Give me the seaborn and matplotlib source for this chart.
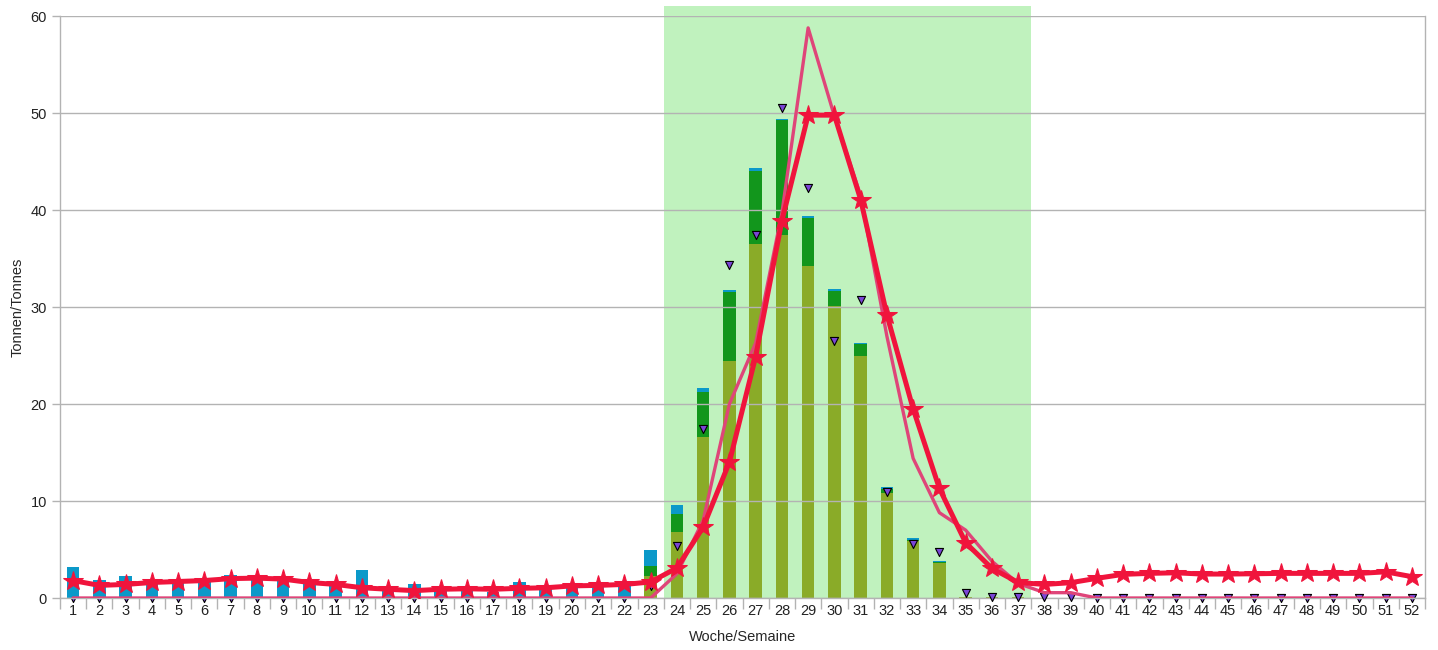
import numpy as np
import pandas as pd
import matplotlib
matplotlib.use("Agg")
import matplotlib.pyplot as plt
import seaborn as sns

# Daten pro Woche (1-52)
wochen = list(range(1, 53))

anteil_oliv = [0.0] * 22 + [2.27, 6.84, 16.6, 24.4, 36.5, 37.4, 34.2, 30.1, 24.95, 10.86, 5.9, 3.57,
                            0.15, 0.1, 0.1] + [0.0] * 15
anteil_gruen = [0.0] * 22 + [1.03, 1.82, 4.6, 7.2, 7.5, 11.9, 5.0, 1.55, 1.2, 0.4, 0.08, 0.11,
                             0.0, 0.0, 0.0] + [0.0] * 15
anteil_blau = [3.15, 1.85, 2.25, 1.5, 1.6, 1.6, 2.35, 2.0, 2.3, 1.5, 1.7, 2.9, 1.0, 1.45, 0.9, 1.0,
               0.6, 1.7, 0.9, 1.5, 1.4, 1.75,
               1.7, 0.94, 0.45, 0.2, 0.3, 0.15, 0.2, 0.25, 0.2, 0.14, 0.21, 0.17,
               0.0, 0.0, 0.0] + [0.0] * 15

linie_stern = [1.8, 1.3, 1.4, 1.6, 1.7, 1.8, 2.0, 2.05, 1.95, 1.6, 1.4, 1.06, 0.9, 0.76, 0.9, 0.95,
               0.9, 1.0, 1.05, 1.25, 1.3, 1.4, 1.65, 3.1, 7.3, 14.0, 24.9, 38.9, 49.8, 49.8, 41.1,
               29.2, 19.5, 11.3, 5.7, 3.06, 1.6, 1.4, 1.58, 2.03, 2.44, 2.54, 2.6, 2.47, 2.47, 2.5,
               2.54, 2.54, 2.54, 2.54, 2.7, 2.2]
linie_rosa = [0.0] * 23 + [2.5, 8.0, 20.0, 26.3, 39.7, 58.8, 49.7, 41.5, 27.0, 14.4, 8.8, 7.0, 3.8,
                           1.5, 0.55, 0.55] + [0.0] * 13
dreiecke = [0.0] * 22 + [1.2, 5.4, 17.4, 34.3, 37.4, 50.5, 42.3, 26.5, 30.7, 10.9, 5.6, 4.7, 0.5,
                         0.1, 0.1, 0.1, 0.1] + [0.0] * 13

# Saisonbereich (Woche 24 bis 37)
saison_von, saison_bis = 24, 37

df = pd.DataFrame({'Woche': [str(w) for w in wochen],
                   'oliv': anteil_oliv, 'gruen': anteil_gruen, 'blau': anteil_blau})
df['gruen_kum'] = df['oliv'] + df['gruen']
df['blau_kum'] = df['gruen_kum'] + df['blau']
pos = np.arange(len(wochen))
tri = pd.DataFrame({'pos': pos, 'wert': dreiecke})

sns.set_theme(style="white")
plt.rcParams['font.family'] = ['Liberation Sans', 'DejaVu Sans']

fig = plt.figure(figsize=(14.38, 6.5), dpi=100)
ax = fig.add_axes([0.0417, 0.08, 0.9493, 0.895])

grau = '#b3b3b3'

# Hintergrund für die Saison
ax.axvspan(saison_von - 1.5, saison_bis - 0.5, ymin=0, ymax=61.1 / 60, color='#c0f2be',
           zorder=0, clip_on=False, lw=0)

# gestapelte Balken (von oben nach unten gezeichnet)
balken = dict(width=0.47, saturation=1, linewidth=0, edgecolor='none', ax=ax, zorder=2)
sns.barplot(data=df, x='Woche', y='blau_kum', color='#0b99c9', **balken)
sns.barplot(data=df, x='Woche', y='gruen_kum', color='#12961c', **balken)
sns.barplot(data=df, x='Woche', y='oliv', color='#8aab28', **balken)

# Dreiecke (Nullwerte liegen hinter Balken und Linien)
dreieck_stil = dict(marker='v', s=34, color='#7a45d6', edgecolor='black', linewidth=0.8,
                    clip_on=False, ax=ax, legend=False)
sns.scatterplot(data=tri[tri['wert'] == 0], x='pos', y='wert', zorder=1.5, **dreieck_stil)
sns.scatterplot(data=tri[tri['wert'] > 0], x='pos', y='wert', zorder=3, **dreieck_stil)

# Linien
sns.lineplot(x=pos, y=linie_rosa, color='#df4579', linewidth=2.4, zorder=4, ax=ax, legend=False)
sns.lineplot(x=pos, y=linie_stern, color='#f0143c', linewidth=3.6, marker='*', markersize=15,
             markeredgecolor='#f0143c', zorder=5, ax=ax, legend=False)

ax.set_ylim(0, 60)
ax.set_xlim(-0.5, len(wochen) - 0.5)
ax.set_yticks(range(0, 61, 10))
ax.yaxis.grid(True, color=grau, linewidth=1)
ax.set_axisbelow(False)
for gl in ax.get_ygridlines():
    gl.set_zorder(1)
ax.xaxis.grid(False)
ax.set_xlabel('')
ax.set_ylabel('')

ax.set_xticks(pos)
ax.set_xticklabels([str(w) for w in wochen], fontsize=10.5, color='#222222')
ax.set_xticks(np.arange(-0.5, len(wochen), 1), minor=True)
ax.tick_params(axis='x', which='major', length=0, pad=4)
ax.tick_params(axis='x', which='minor', length=8, color=grau, width=1, direction='out', bottom=True)
ax.tick_params(axis='y', length=6, color=grau, width=1, direction='out', left=True,
               labelsize=10.5, labelcolor='#222222')

for s in ['left', 'bottom', 'right']:
    ax.spines[s].set_color(grau)
    ax.spines[s].set_linewidth(1)
ax.spines['top'].set_visible(False)

ax.set_xlabel('Woche/Semaine', fontsize=10.5, labelpad=9)
ax.set_ylabel('Tonnen/Tonnes', fontsize=10.5, labelpad=4)

plt.savefig('out.png', dpi=100)
plt.close()
